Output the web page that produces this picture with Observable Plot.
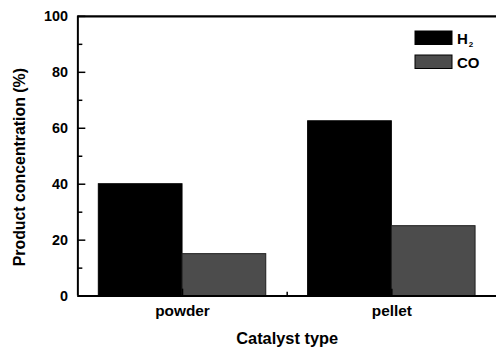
<!DOCTYPE html>
<html><head><meta charset="utf-8">
<script src="https://cdn.jsdelivr.net/npm/d3@7"></script>
<script src="https://cdn.jsdelivr.net/npm/@observablehq/plot@0.6"></script>
<style>
html,body{margin:0;padding:0;background:#fff;overflow:hidden;}
#wrap{position:relative;width:496px;height:351px;overflow:hidden;}
#wrap svg{display:block;}
#legend{position:absolute;left:0;top:0;pointer-events:none;}
</style></head><body><div id="wrap"></div>
<script>
const categories = ["powder", "pellet"];
const seriesNames = ["H2", "CO"];
const h2Values = [40, 62.5];
const coValues = [15, 25];
const yTicks = [0, 20, 40, 60, 80, 100];
const yMinorTicks = [10, 30, 50, 70, 90];
const xTitle = "Catalyst type";
const yTitle = "Product concentration (%)";

const colors = {H2: "#000000", CO: "#4c4c4c"};
const font = "'Liberation Sans', Arial, Helvetica, sans-serif";

const catPos = categories.map((c, i) => i + 1);
const barW = 0.4;
const bars = [];
categories.forEach((c, i) => {
  bars.push({cat: c, series: "H2", x1: catPos[i] - barW, x2: catPos[i], value: h2Values[i]});
  bars.push({cat: c, series: "CO", x1: catPos[i], x2: catPos[i] + barW, value: coValues[i]});
});
const midTicks = catPos.slice(0, -1).map(p => p + 0.5);

const plot = Plot.plot({
  width: 500, height: 351,
  marginLeft: 78, marginRight: 0, marginTop: 16, marginBottom: 53,
  style: {fontFamily: font, fontWeight: "bold", fontSize: "14px", color: "#000", background: "#fff", overflow: "visible"},
  x: {domain: [0.5, 2.5], axis: null},
  y: {domain: [0, 100], axis: null},
  marks: [
    Plot.rect(bars, {x1: "x1", x2: "x2", y1: 0, y2: "value",
      fill: d => colors[d.series], stroke: d => d.series === "CO" ? "#1e1e1e" : "#000", strokeWidth: 1}),
    Plot.ruleY([0], {strokeWidth: 2}),
    Plot.ruleY([100], {strokeWidth: 2.5}),
    Plot.ruleX([0.5], {strokeWidth: 2}),
    Plot.axisY(yTicks, {tickSize: -8, fill: "none", strokeWidth: 1.5}),
    Plot.axisY(yMinorTicks, {tickSize: -5, fill: "none", strokeWidth: 1.5}),
    Plot.axisY(yTicks, {tickSize: 0, tickPadding: 10, fontSize: 14.5, fontWeight: "bold", label: null}),
    Plot.axisX(catPos, {tickSize: -7, fill: "none", strokeWidth: 1.5}),
    Plot.axisX(midTicks, {tickSize: -4, fill: "none", strokeWidth: 1.5}),
    Plot.axisX(catPos, {tickSize: 0, tickPadding: 9.5, fontSize: 15.5, fontWeight: "bold",
      tickFormat: (d, i) => categories[i], label: null}),
    Plot.text([xTitle], {frameAnchor: "bottom", lineAnchor: "bottom", dy: 48.5, fontSize: 16.5, fontWeight: "bold"}),
    Plot.text([yTitle], {frameAnchor: "left", textAnchor: "middle", lineAnchor: "bottom", rotate: -90, dx: -53, dy: 11, fontSize: 16, fontWeight: "bold"})
  ]
});
document.getElementById("wrap").appendChild(plot);

// legend overlay
const leg = d3.select("#wrap").append("svg").attr("id", "legend")
  .attr("width", 496).attr("height", 351)
  .style("font-family", font).style("font-weight", "bold");
const legItems = [
  {name: "H2", top: 31},
  {name: "CO", top: 55}
];
legItems.forEach(it => {
  leg.append("rect").attr("x", 415).attr("y", it.top).attr("width", 37).attr("height", 13.5)
    .attr("fill", colors[it.name]).attr("stroke", "#000").attr("stroke-width", 1);
  const t = leg.append("text").attr("x", 457).attr("y", it.top + 12.8).attr("font-size", 15).attr("fill", "#000");
  if (it.name === "H2") {
    t.append("tspan").text("H");
    t.append("tspan").attr("font-size", 8).attr("dy", 3).attr("dx", 1).text("2");
  } else {
    t.text(it.name);
  }
});
</script>
</body></html>
